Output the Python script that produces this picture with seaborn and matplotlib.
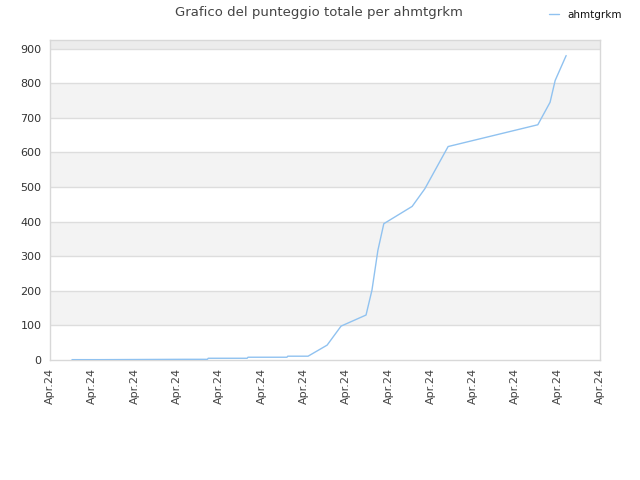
import matplotlib
matplotlib.use("Agg")
import matplotlib.pyplot as plt
import seaborn as sns
import pandas as pd

# data (x in tick-interval units, y = total score)
x_pos = [0.52, 1.18, 3.19, 3.72, 3.74, 4.66, 4.68, 5.60, 5.62, 6.10, 6.55,
         6.88, 7.47, 7.61, 7.75, 7.89, 8.56, 8.86, 9.41, 11.53, 11.82, 11.94, 12.20]
scores = [1, 1, 2, 2, 5, 5, 8, 8, 11, 11, 43,
          98, 130, 202, 317, 394, 444, 495, 617, 680, 745, 808, 880]
tick_labels = ["Apr.24"] * 14
y_ticks = [0, 100, 200, 300, 400, 500, 600, 700, 800, 900]
series_name = "ahmtgrkm"
title = "Grafico del punteggio totale per ahmtgrkm"

df = pd.DataFrame({"x": x_pos, "punteggio": scores, "serie": series_name})

sns.set_style("white")
plt.rcParams['font.family'] = ['DejaVu Sans']

fig = plt.figure(figsize=(6.4, 4.8), dpi=100)
ax = fig.add_axes([50/640, 1-360/480, 550/640, 320/480])

ymax = 925
# alternating bands
for i in range(0, 10):
    lo = i * 100
    hi = min((i + 1) * 100, ymax)
    if i % 2 == 1:
        ax.axhspan(lo, hi, color="#f3f3f3", zorder=0, lw=0)
ax.axhspan(900, ymax, color="#ececec", zorder=0, lw=0)
for yt in y_ticks[1:]:
    ax.axhline(yt, color="#dddddd", lw=1, zorder=1)

sns.lineplot(data=df, x="x", y="punteggio", hue="serie", ax=ax,
             palette=["#90c2f0"], linewidth=1, zorder=3, legend=True,
             sort=False)

ax.set_xlim(0, 13)
ax.set_ylim(0, ymax)
ax.set_xticks(range(14))
ax.set_xticklabels(tick_labels, rotation=90, fontsize=8, color="#444444")
ax.set_yticks(y_ticks)
ax.set_yticklabels([str(v) for v in y_ticks], fontsize=8, color="#333333")
ax.tick_params(axis="both", length=0, pad=6)
ax.set_xlabel("")
ax.set_ylabel("")
for s in ax.spines.values():
    s.set_color("#d8d8d8")
    s.set_linewidth(1)

fig.suptitle(title, x=(50+600)/2/640 - 0.01, y=1-12.5/480, fontsize=9.5,
             color="#444444", va="center")

leg = ax.legend(loc="center left", bbox_to_anchor=(540/640, 1-15/480),
                bbox_transform=fig.transFigure, frameon=False, fontsize=7.5,
                handlelength=0.9, handletextpad=0.8)
for t in leg.get_texts():
    t.set_color("#111111")

fig.savefig("out.png", dpi=100)
